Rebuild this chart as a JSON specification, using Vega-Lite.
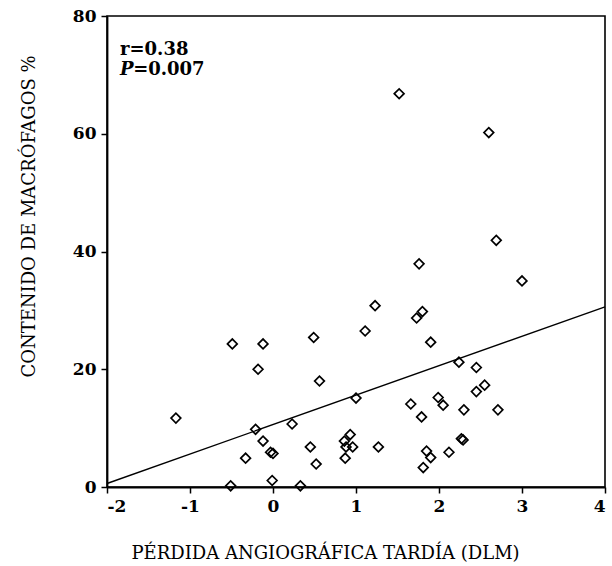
{
  "$schema": "https://vega.github.io/schema/vega-lite/v6.json",
  "width": 498,
  "height": 471,
  "autosize": {"type": "none"},
  "padding": {"left": 107, "top": 16, "right": 7, "bottom": 79},
  "background": "white",
  "config": {
    "view": {"stroke": "black", "strokeWidth": 1.6},
    "axis": {
      "domainColor": "black", "domainWidth": 1.8,
      "tickColor": "black", "tickWidth": 1.5, "tickSize": 6,
      "grid": false,
      "labelFont": "DejaVu Serif", "labelFontWeight": "bold", "labelFontSize": 17, "labelColor": "black",
      "titleFont": "DejaVu Serif", "titleFontWeight": "normal", "titleFontSize": 18, "titleColor": "black"
    }
  },
  "layer": [
    {
      "data": {"values": [
        {"x": 1.52, "y": 66.8}, {"x": 2.60, "y": 60.2}, {"x": 2.69, "y": 41.9}, {"x": 1.76, "y": 37.9},
        {"x": 3.0, "y": 35.0}, {"x": 1.23, "y": 30.8}, {"x": 1.80, "y": 29.8}, {"x": 1.73, "y": 28.7},
        {"x": 1.11, "y": 26.5}, {"x": 0.49, "y": 25.4}, {"x": 1.90, "y": 24.6}, {"x": -0.49, "y": 24.3},
        {"x": -0.12, "y": 24.3}, {"x": -0.18, "y": 20.0}, {"x": 0.56, "y": 18.0}, {"x": 2.24, "y": 21.2},
        {"x": 2.45, "y": 20.3}, {"x": 2.55, "y": 17.3}, {"x": 2.45, "y": 16.2}, {"x": 1.0, "y": 15.1},
        {"x": 1.66, "y": 14.1}, {"x": 1.99, "y": 15.2}, {"x": 2.05, "y": 13.9}, {"x": 1.79, "y": 11.9},
        {"x": 2.30, "y": 13.1}, {"x": 2.71, "y": 13.1}, {"x": -1.17, "y": 11.7}, {"x": 0.23, "y": 10.7},
        {"x": -0.21, "y": 9.8}, {"x": -0.12, "y": 7.8}, {"x": 0.0, "y": 5.7}, {"x": -0.03, "y": 5.9},
        {"x": -0.33, "y": 4.9}, {"x": 0.45, "y": 6.8}, {"x": 0.52, "y": 3.9}, {"x": -0.01, "y": 1.1},
        {"x": -0.51, "y": 0.2}, {"x": 0.33, "y": 0.2}, {"x": 0.93, "y": 8.9}, {"x": 0.86, "y": 7.8},
        {"x": 0.88, "y": 6.8}, {"x": 0.96, "y": 6.8}, {"x": 0.87, "y": 4.9}, {"x": 1.27, "y": 6.8},
        {"x": 2.29, "y": 8.0}, {"x": 2.27, "y": 8.2}, {"x": 1.85, "y": 6.1}, {"x": 1.90, "y": 5.0},
        {"x": 2.12, "y": 5.9}, {"x": 1.81, "y": 3.3}
      ]},
      "mark": {"type": "point", "shape": "diamond", "filled": false, "stroke": "black", "strokeWidth": 1.7, "size": 95, "opacity": 1},
      "encoding": {
        "x": {"field": "x", "type": "quantitative",
          "scale": {"domain": [-2, 4], "nice": false, "zero": false},
          "axis": {"values": [-2, -1, 0, 1, 2, 3, 4], "labelExpr": "datum.value < 0 ? '-' + abs(datum.value) : '' + datum.value", "labelPadding": 5,
            "title": "PÉRDIDA ANGIOGRÁFICA TARDÍA (DLM)",
            "titleX": 218, "titleY": 66, "titleAnchor": null, "titleAlign": "center", "titleBaseline": "middle"}},
        "y": {"field": "y", "type": "quantitative",
          "scale": {"domain": [0, 80], "nice": false, "zero": false},
          "axis": {"values": [0, 20, 40, 60, 80], "format": "d", "labelPadding": 5,
            "title": "CONTENIDO DE MACRÓFAGOS %",
            "titleX": -78, "titleY": 200, "titleAngle": -90, "titleAlign": "center", "titleBaseline": "middle"}}
      }
    },
    {
      "data": {"values": [{"x": -2, "y": 0.6}, {"x": 4, "y": 30.6}]},
      "mark": {"type": "line", "color": "black", "strokeWidth": 1.4},
      "encoding": {
        "x": {"field": "x", "type": "quantitative"},
        "y": {"field": "y", "type": "quantitative"}
      }
    },
    {
      "data": {"values": [{"label": "r=0.38"}]},
      "mark": {"type": "text", "align": "left", "baseline": "alphabetic", "font": "DejaVu Serif", "fontWeight": "bold", "fontSize": 18, "color": "black"},
      "encoding": {
        "x": {"datum": -1.843, "type": "quantitative"},
        "y": {"datum": 73.3, "type": "quantitative"},
        "text": {"field": "label"}
      }
    },
    {
      "data": {"values": [{"label": "P"}]},
      "mark": {"type": "text", "align": "left", "baseline": "alphabetic", "font": "DejaVu Serif", "fontWeight": "bold", "fontStyle": "italic", "fontSize": 18, "color": "black"},
      "encoding": {
        "x": {"datum": -1.843, "type": "quantitative"},
        "y": {"datum": 70.0, "type": "quantitative"},
        "text": {"field": "label"}
      }
    },
    {
      "data": {"values": [{"label": "=0.007"}]},
      "mark": {"type": "text", "align": "left", "baseline": "alphabetic", "font": "DejaVu Serif", "fontWeight": "bold", "fontSize": 18, "color": "black"},
      "encoding": {
        "x": {"datum": -1.685, "type": "quantitative"},
        "y": {"datum": 70.0, "type": "quantitative"},
        "text": {"field": "label"}
      }
    }
  ]
}
